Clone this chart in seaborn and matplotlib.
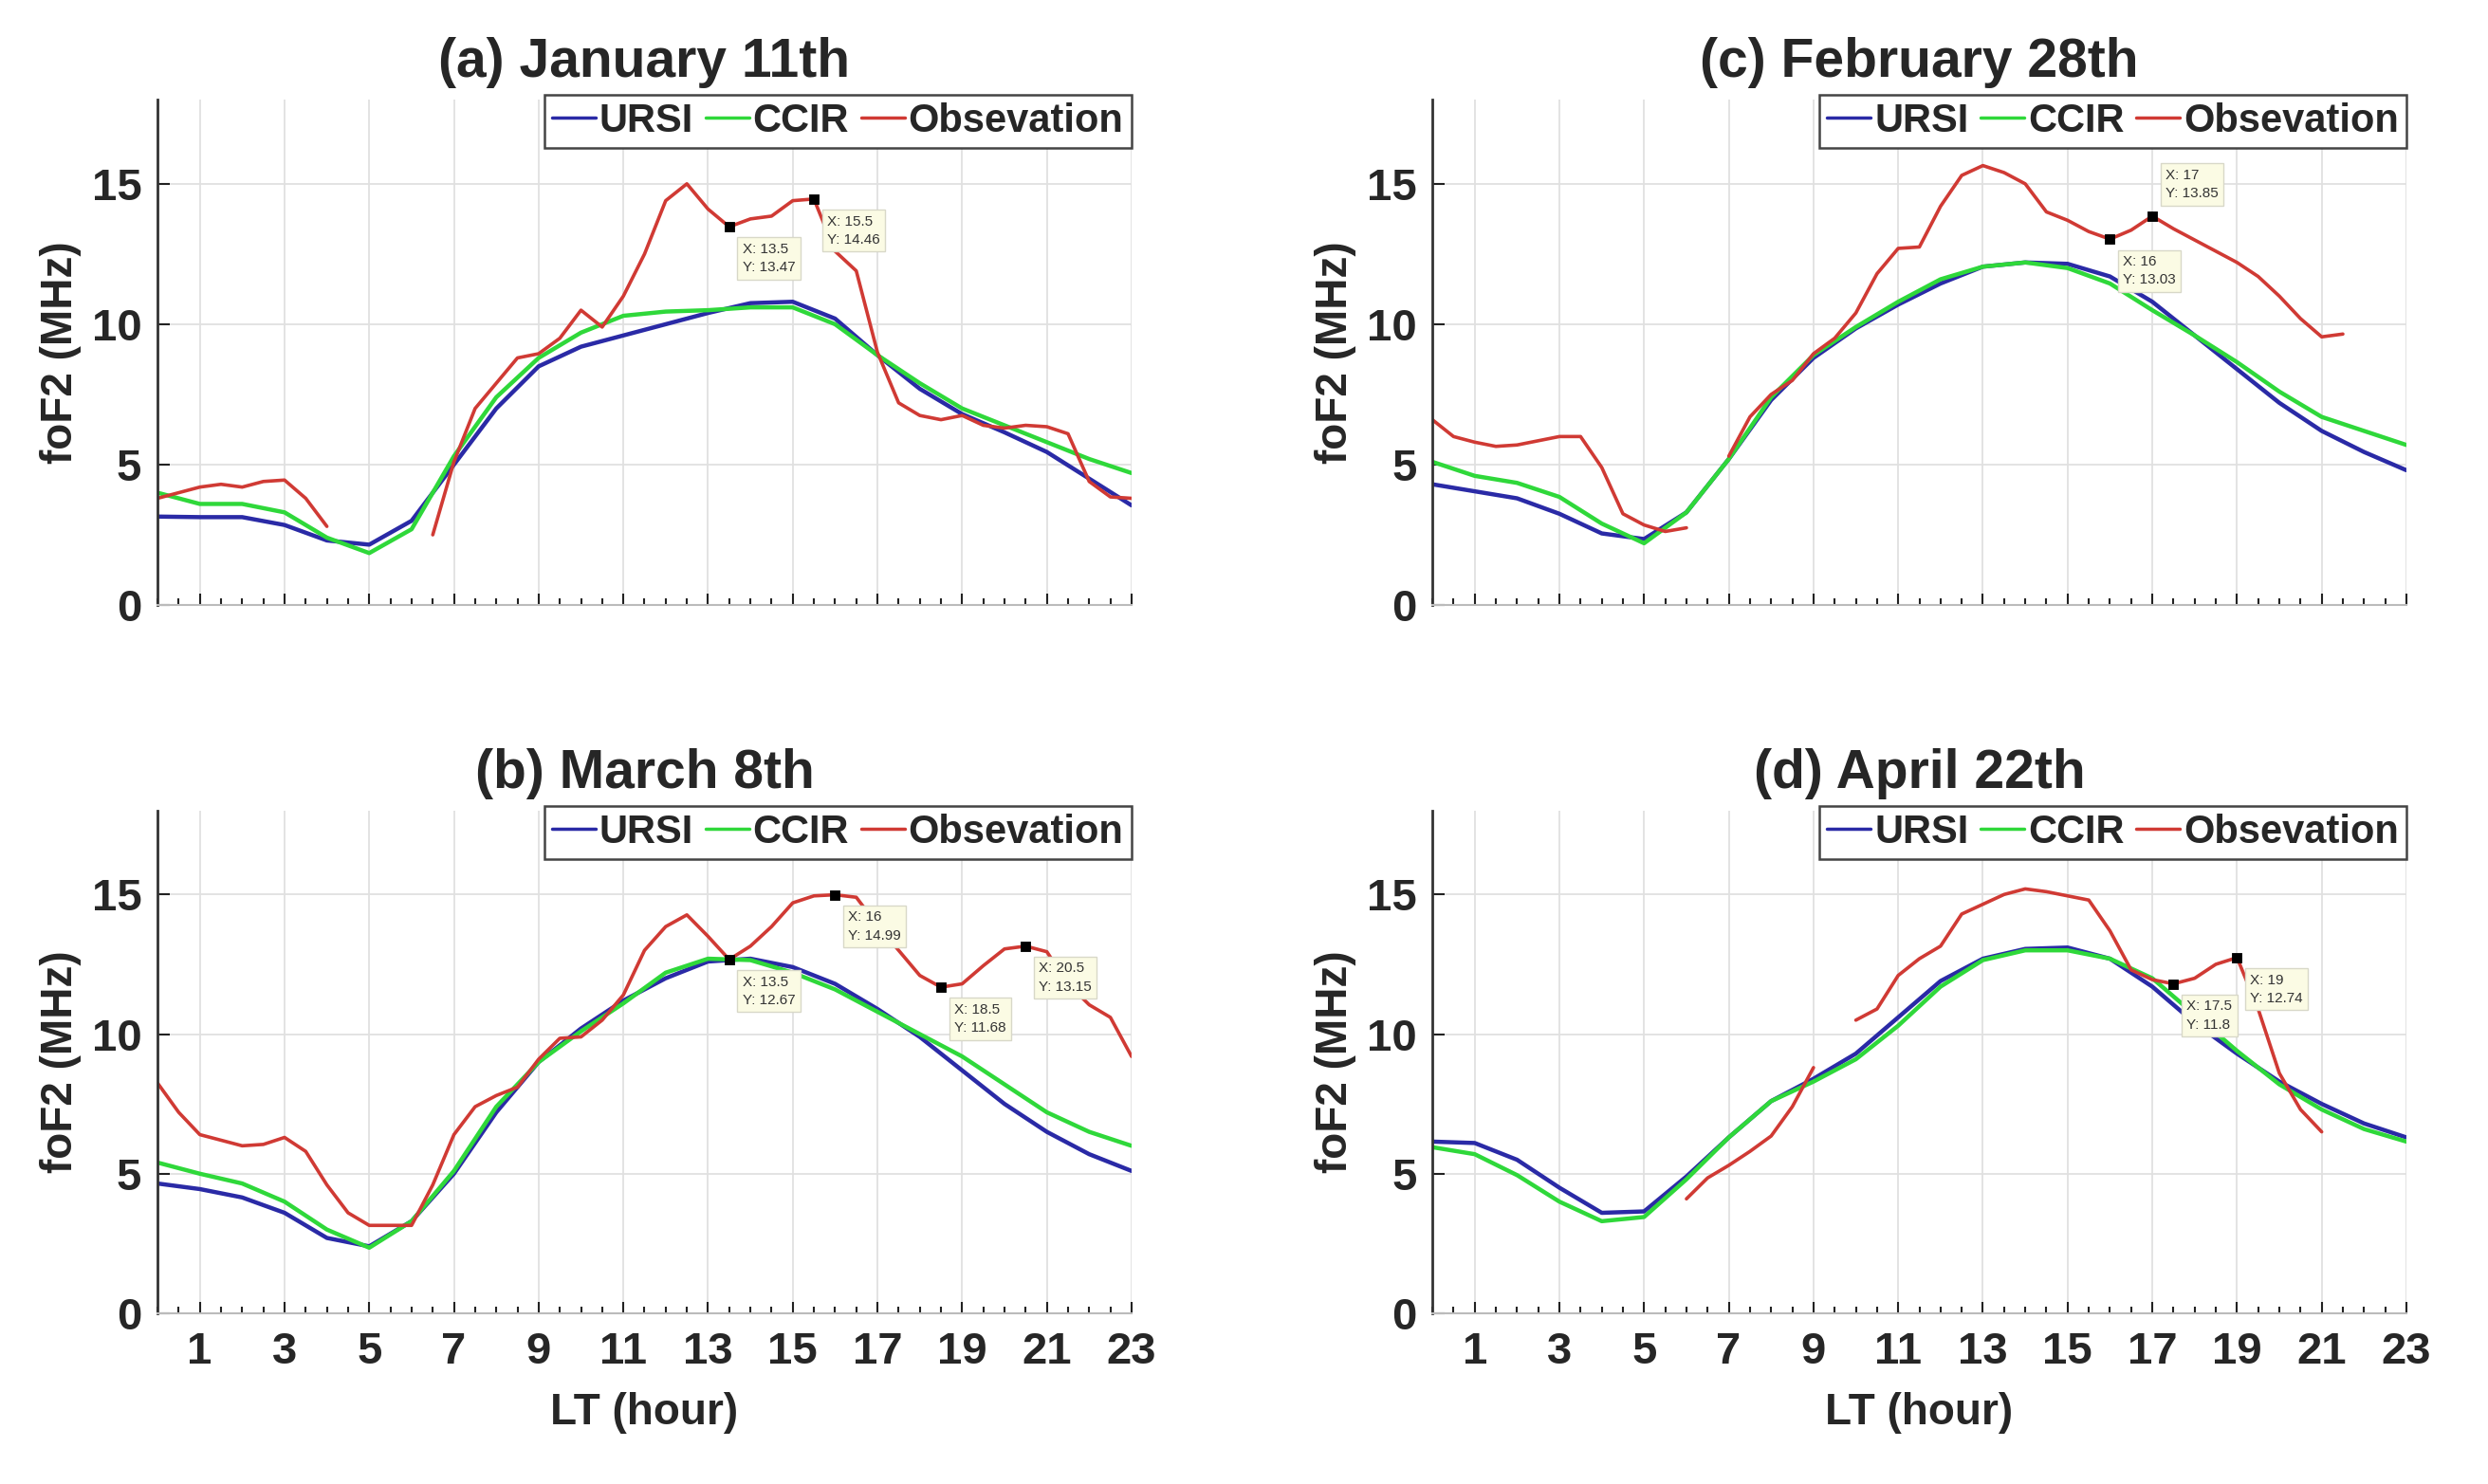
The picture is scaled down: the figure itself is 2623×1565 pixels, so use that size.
import numpy as np
import pandas as pd
import matplotlib
matplotlib.use("Agg")
import matplotlib.pyplot as plt
from matplotlib.lines import Line2D
import seaborn as sns

sns.set_theme(style="white")
plt.rcParams['font.family'] = ['Liberation Sans', 'DejaVu Sans']
plt.rcParams['font.weight'] = 'bold'

nan = np.nan

# model curves are hourly, observations every half hour
hours = list(range(24))
obs_hours = [h / 2 for h in range(47)]

# (a) January 11th
ursi_a = [3.15, 3.13, 3.13, 2.85, 2.3, 2.15, 3.0, 5.0, 7.0, 8.5, 9.2, 9.6,
          10.0, 10.4, 10.75, 10.8, 10.2, 8.9, 7.7, 6.8, 6.15, 5.45, 4.5, 3.55]
ccir_a = [4.0, 3.6, 3.6, 3.3, 2.4, 1.85, 2.7, 5.3, 7.4, 8.8, 9.7, 10.3,
          10.45, 10.5, 10.6, 10.6, 10.0, 8.9, 7.9, 7.0, 6.4, 5.8, 5.2, 4.7]
obs_a = [3.8, 4.0, 4.2, 4.3, 4.2, 4.4, 4.45, 3.8, 2.8, nan, nan, nan,
         nan, 2.5, 5.1, 7.0, 7.9, 8.8, 8.95, 9.5, 10.5, 9.9, 11.0, 12.5,
         14.4, 15.0, 14.1, 13.47, 13.75, 13.85, 14.4, 14.46, 12.6, 11.9, 9.0, 7.2,
         6.75, 6.6, 6.75, 6.4, 6.3, 6.4, 6.35, 6.1, 4.4, 3.85, 3.8]
tips_a_x = [13.5, 15.5]
tips_a_y = [13.47, 14.46]
tips_a_lbl = ["X: 13.5\nY: 13.47", "X: 15.5\nY: 14.46"]
tips_a_pos = ["below", "below"]

# (b) March 8th
ursi_b = [4.65, 4.45, 4.15, 3.6, 2.7, 2.4, 3.3, 5.0, 7.2, 9.0, 10.2, 11.2,
          12.0, 12.6, 12.7, 12.4, 11.8, 10.9, 9.9, 8.7, 7.5, 6.5, 5.7, 5.1]
ccir_b = [5.4, 5.0, 4.65, 4.0, 3.0, 2.35, 3.3, 5.1, 7.4, 9.0, 10.1, 11.1,
          12.2, 12.7, 12.65, 12.2, 11.6, 10.8, 10.0, 9.2, 8.2, 7.2, 6.5, 6.0]
obs_b = [8.25, 7.2, 6.4, 6.2, 6.0, 6.05, 6.3, 5.8, 4.6, 3.6, 3.15, 3.15,
         3.15, 4.6, 6.4, 7.4, 7.8, 8.1, 9.1, 9.85, 9.9, 10.5, 11.4, 13.0,
         13.85, 14.27, 13.5, 12.67, 13.15, 13.85, 14.7, 14.95, 14.99, 14.9, 13.9, 13.0,
         12.1, 11.68, 11.8, 12.45, 13.05, 13.15, 12.95, 11.8, 11.05, 10.6, 9.2]
tips_b_x = [13.5, 16, 18.5, 20.5]
tips_b_y = [12.67, 14.99, 11.68, 13.15]
tips_b_lbl = ["X: 13.5\nY: 12.67", "X: 16\nY: 14.99", "X: 18.5\nY: 11.68", "X: 20.5\nY: 13.15"]
tips_b_pos = ["below", "below", "below", "below"]

# (c) February 28th
ursi_c = [4.3, 4.05, 3.8, 3.25, 2.55, 2.35, 3.3, 5.2, 7.3, 8.8, 9.85, 10.7,
          11.45, 12.05, 12.2, 12.15, 11.7, 10.8, 9.6, 8.4, 7.2, 6.2, 5.45, 4.8]
ccir_c = [5.1, 4.6, 4.35, 3.85, 2.9, 2.2, 3.3, 5.2, 7.4, 8.9, 9.9, 10.8,
          11.6, 12.05, 12.2, 12.0, 11.45, 10.5, 9.6, 8.65, 7.6, 6.7, 6.2, 5.7]
obs_c = [6.6, 6.0, 5.8, 5.65, 5.7, 5.85, 6.0, 6.0, 4.9, 3.25, 2.85, 2.62,
         2.75, nan, 5.3, 6.7, 7.5, 8.0, 8.95, 9.5, 10.4, 11.8, 12.7, 12.75,
         14.2, 15.3, 15.65, 15.4, 15.0, 14.0, 13.7, 13.3, 13.03, 13.35, 13.85, 13.4,
         13.0, 12.6, 12.2, 11.7, 11.0, 10.2, 9.55, 9.65, nan, nan, nan]
tips_c_x = [16, 17]
tips_c_y = [13.03, 13.85]
tips_c_lbl = ["X: 16\nY: 13.03", "X: 17\nY: 13.85"]
tips_c_pos = ["below", "above"]

# (d) April 22th
ursi_d = [6.15, 6.1, 5.5, 4.5, 3.6, 3.65, 4.9, 6.3, 7.6, 8.4, 9.3, 10.6,
          11.9, 12.7, 13.05, 13.1, 12.7, 11.7, 10.4, 9.3, 8.3, 7.5, 6.8, 6.3]
ccir_d = [5.95, 5.7, 4.95, 4.0, 3.3, 3.45, 4.8, 6.3, 7.6, 8.3, 9.1, 10.3,
          11.7, 12.65, 13.0, 13.0, 12.7, 12.0, 10.7, 9.4, 8.2, 7.3, 6.6, 6.15]
obs_d = [nan, nan, nan, nan, nan, nan, nan, nan, nan, nan, nan, nan,
         4.1, 4.85, 5.3, 5.8, 6.35, 7.4, 8.8, nan, 10.5, 10.9, 12.1, 12.7,
         13.15, 14.3, 14.65, 15.0, 15.2, 15.1, 14.95, 14.8, 13.7, 12.3, 11.95, 11.8,
         12.0, 12.5, 12.74, 10.9, 8.6, 7.3, 6.5, nan, nan, nan, nan]
tips_d_x = [17.5, 19]
tips_d_y = [11.8, 12.74]
tips_d_lbl = ["X: 17.5\nY: 11.8", "X: 19\nY: 12.74"]
tips_d_pos = ["below", "below"]

URSI_COL = '#2a2aa6'
CCIR_COL = '#2fd83a'
OBS_COL = '#d03a34'

panels = [
    ("(a) January 11th", ursi_a, ccir_a, obs_a, tips_a_x, tips_a_y, tips_a_lbl, tips_a_pos,
     [0.0633, 0.5923, 0.3915, 0.3406], False),
    ("(c) February 28th", ursi_c, ccir_c, obs_c, tips_c_x, tips_c_y, tips_c_lbl, tips_c_pos,
     [0.5757, 0.5923, 0.3915, 0.3406], False),
    ("(b) March 8th", ursi_b, ccir_b, obs_b, tips_b_x, tips_b_y, tips_b_lbl, tips_b_pos,
     [0.0633, 0.1150, 0.3915, 0.3387], True),
    ("(d) April 22th", ursi_d, ccir_d, obs_d, tips_d_x, tips_d_y, tips_d_lbl, tips_d_pos,
     [0.5757, 0.1150, 0.3915, 0.3387], True),
]

fig = plt.figure(figsize=(26.23, 15.65), dpi=100)

for title, ursi, ccir, obs, tx, ty, tl, tp, pos, bottom in panels:
    ax = fig.add_axes(pos)

    sns.lineplot(x=hours, y=ursi, ax=ax, color=URSI_COL, lw=3.2)
    sns.lineplot(x=hours, y=ccir, ax=ax, color=CCIR_COL, lw=3.2)

    # observation has gaps -> draw each continuous piece as its own unit
    df_obs = pd.DataFrame({'hour': obs_hours, 'foF2': obs})
    df_obs['seg'] = df_obs['foF2'].isna().cumsum()
    df_obs = df_obs.dropna()
    sns.lineplot(data=df_obs, x='hour', y='foF2', units='seg', estimator=None,
                 ax=ax, color=OBS_COL, lw=2.6)

    # data tips
    sns.scatterplot(x=tx, y=ty, ax=ax, marker='s', color='black', s=60,
                    edgecolor='black', zorder=6)
    for x, y, lbl, where in zip(tx, ty, tl, tp):
        if where == "above":
            off, va = (10, 12), 'bottom'
        else:
            off, va = (10, -12), 'top'
        ax.annotate(lbl, (x, y), xytext=off, textcoords='offset points',
                    ha='left', va=va, fontsize=11, fontweight='normal', color='#333333',
                    linespacing=1.5,
                    bbox=dict(boxstyle='square,pad=0.35', fc='#fbfbe4', ec='#d8d8c8', lw=1),
                    zorder=7)

    ax.set_xlim(0, 23)
    ax.set_ylim(0, 18)
    ax.set_xticks(range(1, 24, 2))
    ax.set_xticks(obs_hours, minor=True)
    ax.set_yticks([0, 5, 10, 15])
    ax.grid(True, which='major', color='#e0e0e0', lw=1.3)
    ax.set_axisbelow(True)
    ax.tick_params(axis='both', which='both', bottom=True, left=True)
    ax.tick_params(axis='both', which='major', direction='in', length=9, width=1.5,
                   labelsize=34, color='#222222', pad=14)
    ax.tick_params(axis='x', which='minor', direction='in', length=5, width=1.5, color='#222222')
    ax.tick_params(axis='y', which='major', pad=12)
    for lab in ax.get_xticklabels() + ax.get_yticklabels():
        lab.set_fontweight('bold')

    for s in ['top', 'right']:
        ax.spines[s].set_visible(False)
    ax.spines['left'].set_color('#333333')
    ax.spines['left'].set_linewidth(2)
    ax.spines['bottom'].set_color('#bbbbbb')
    ax.spines['bottom'].set_linewidth(1.5)

    if bottom:
        ax.set_xlabel("LT (hour)", fontsize=33, fontweight='bold', labelpad=14)
    else:
        ax.set_xlabel("")
        ax.tick_params(axis='x', labelbottom=False)
    ax.set_ylabel("foF2 (MHz)", fontsize=33, fontweight='bold', labelpad=8)
    ax.set_title(title, fontsize=41, fontweight='bold', pad=17)

    handles = [Line2D([], [], color=URSI_COL, lw=2.5),
               Line2D([], [], color=CCIR_COL, lw=2.5),
               Line2D([], [], color=OBS_COL, lw=2.5)]
    leg = ax.legend(handles, ['URSI', 'CCIR', 'Obsevation'], ncol=3, loc='upper right',
                    bbox_to_anchor=(1.0, 1.01), borderaxespad=0,
                    handlelength=1.1, handletextpad=0.1, columnspacing=0.3,
                    borderpad=0.2, fancybox=False, framealpha=1, edgecolor='#444444',
                    prop={'size': 30, 'weight': 'bold'})
    leg.get_frame().set_linewidth(1.8)
    leg.set_zorder(10)

fig.savefig("out.png", dpi=100)
